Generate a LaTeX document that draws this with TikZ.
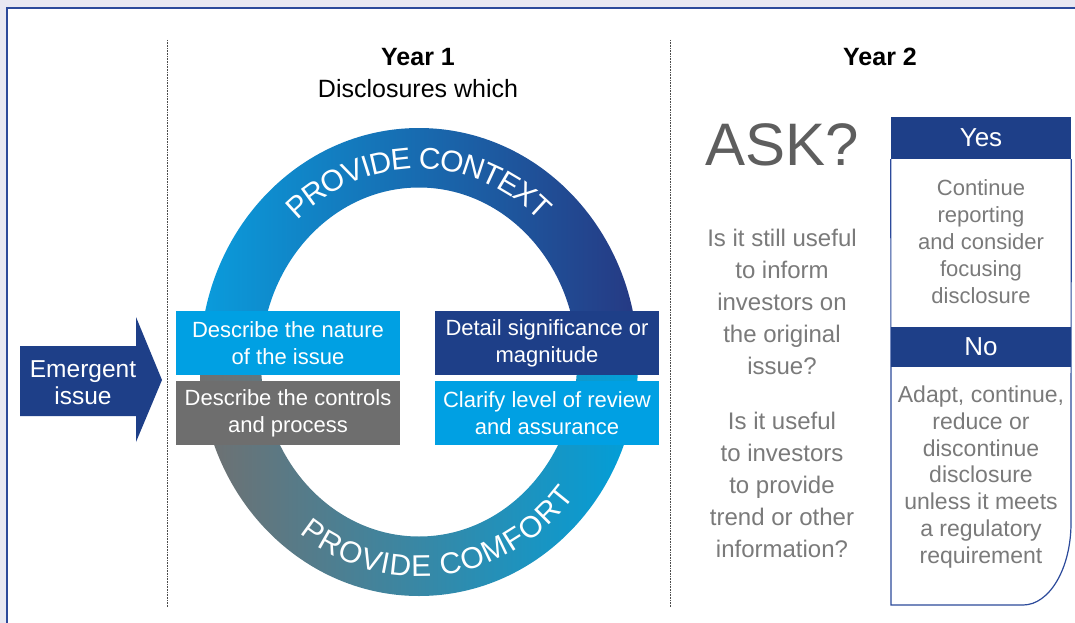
\documentclass[tikz,border=0pt]{standalone}
\usepackage{fontspec}
\setmainfont{Liberation Sans}
\usetikzlibrary{decorations.text}

\definecolor{navy}{HTML}{1E3F88}
\definecolor{skyblue}{HTML}{00A0E3}
\definecolor{boxgray}{HTML}{6E6E6E}
\definecolor{textgray}{HTML}{7A7A7A}
\definecolor{askgray}{HTML}{5E5E5E}
\definecolor{framebg}{HTML}{E8E8F2}
\definecolor{frameline}{HTML}{2C4A9B}
\definecolor{ringcyan}{HTML}{0A9CDC}
\definecolor{ringmid}{HTML}{0072B6}
\definecolor{ringnavy}{HTML}{263983}
\definecolor{ringgray}{HTML}{707070}
\definecolor{ringteal}{HTML}{4F8492}
\definecolor{ringblue}{HTML}{009FDA}

\newcommand{\fsize}[2]{\fontsize{#1pt}{#2pt}\selectfont}
\newcommand{\ringfont}{\fsize{30}{30}\color{white}}

\begin{document}
\begin{tikzpicture}[x=1pt,y=1pt,
	disc/.style={minimum width=224, minimum height=64, inner sep=0pt, align=center, text=white, font=\fsize{22}{27}},
	head/.style={fill=navy, minimum width=180, inner sep=0pt, text=white, font=\fsize{26}{26}},
	note/.style={align=center, text=textgray, inner sep=0pt},
	title/.style={align=center, inner sep=0pt, font=\fsize{25}{32}},
	divider/.style={draw=black!70, line width=0.8, dash pattern=on 0.8pt off 0.8pt}]
	\useasboundingbox (0,0) rectangle (1075,-623);
	\fill[framebg] (0,0) rectangle (1075,-623);
	\fill[white] (7,-8) rectangle (1075,-623);
	\draw[frameline, line width=1.5] (7,-623) -- (7,-8) -- (1075,-8);

	\draw[divider] (167,-40) -- (167,-607);
	\draw[divider] (670,-40) -- (670,-607);

	\node[title] (year1) at (418,-57) {\bfseries Year 1};
	\node[title] (which) at (418,-89) {Disclosures which};
	\node[title] (year2) at (880,-57) {\bfseries Year 2};

	\shade[left color=ringcyan, middle color=ringmid, right color=ringnavy]
		(200,-362) arc[start angle=180, end angle=0, x radius=219, y radius=234]
		-- (577,-362) arc[start angle=0, end angle=180, x radius=158, y radius=174.5] -- cycle;
	\shade[left color=ringgray, middle color=ringteal, right color=ringblue]
		(200,-362) arc[start angle=180, end angle=360, x radius=219, y radius=234]
		-- (577,-362) arc[start angle=360, end angle=180, x radius=158, y radius=174.5] -- cycle;
	\path[decorate, decoration={text along path, text align=center, raise=-10.7pt,
		text={|\ringfont|PROVIDE CONTEXT}}]
		(419,-362) ++(150:188.5 and 204) arc[start angle=150, end angle=30, x radius=188.5, y radius=204];
	\path[decorate, decoration={text along path, text align=center, raise=-10.7pt,
		text={|\ringfont|PROVIDE COMFORT}}]
		(419,-362) ++(207:188.5 and 204) arc[start angle=207, end angle=347, x radius=188.5, y radius=204];

	\node[disc, fill=skyblue] (nature) at (288,-343) {Describe the nature\\of the issue};
	\node[disc, fill=boxgray] (controls) at (288,-413) {Describe the controls\\and process};
	\node[disc, fill=navy] (magnitude) at (547,-343) {Detail significance or\\magnitude};
	\node[disc, fill=skyblue] (assurance) at (547,-413) {Clarify level of review\\and assurance};

	\fill[navy] (20,-346) -- (136,-346) -- (136,-317) -- (162,-380) -- (136,-442) -- (136,-416) -- (20,-416) -- cycle;
	\node[note, text=white, font=\fsize{24.5}{27}] (emergent) at (83,-383) {Emergent\\issue};

	\node[note, text=askgray, font=\fsize{60}{60}] (ask) at (782,-145) {ASK?};
	\node[note, font=\fsize{24}{32}] (inform) at (782,-302) {Is it still useful\\to inform\\investors on\\the original\\issue?};
	\node[note, font=\fsize{24}{32}] (trend) at (782,-485) {Is it useful\\to investors\\to provide\\trend or other\\information?};

	\node[head, minimum height=42] (yes) at (981,-138) {Yes};
	\draw[frameline, line width=1.2] (yes.south west) -- (891,-605) -- (1023,-605)
		arc[start angle=270, end angle=360, x radius=48, y radius=82] -- (yes.south east);
	\node[head, minimum height=40] (no) at (981,-347) {No};
	\node[note, font=\fsize{22}{27}] (continue) at (981,-242) {Continue\\reporting\\and consider\\focusing\\disclosure};
	\node[note, font=\fsize{23}{26.7}] (adapt) at (981,-477) {Adapt, continue,\\reduce or\\discontinue\\disclosure\\unless it meets\\a regulatory\\requirement};
\end{tikzpicture}
\end{document}
